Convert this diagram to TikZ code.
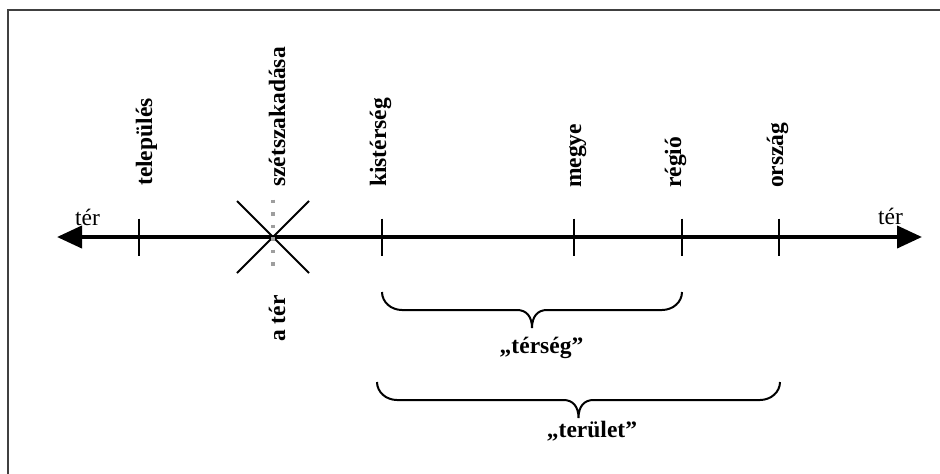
\documentclass[tikz,border=0pt]{standalone}
\usepackage{fontspec}
\setmainfont{Liberation Serif}
\usetikzlibrary{arrows.meta}
\begin{document}
\begin{tikzpicture}[x=1pt,y=-1pt,
  lbl/.style={rotate=90,anchor=base west,inner sep=0pt,font=\fontsize{23.5}{27}\selectfont\bfseries},
  bracelbl/.style={anchor=base,inner sep=0pt,font=\fontsize{23.5}{27}\selectfont\bfseries},
  terlbl/.style={anchor=base west,inner sep=0pt,font=\fontsize{23.5}{27}\selectfont},
  tickline/.style={line width=2pt},
  axisline/.style={line width=4pt,{Triangle[length=25pt,width=22pt]}-{Triangle[length=25pt,width=22pt]}},
  bracepath/.style={line width=2pt},
  crossline/.style={line width=2pt},
  gapline/.style={line width=3.5pt,draw=black!38,dash pattern=on 3.5pt off 9pt}]
\useasboundingbox (0,0) rectangle (940,474);
% frame
\draw[line width=1.5pt,black!75] (8,480) -- (8,10) -- (946,10);
% axis
\coordinate (L) at (57,237);
\coordinate (R) at (922,237);
\draw[axisline] (L) -- (R);
\node[terlbl] (terL) at (75,225) {tér};
\node[terlbl] (terR) at (878,224) {tér};
% ticks
\coordinate (tTel) at (139,237);
\coordinate (tKis) at (382,237);
\coordinate (tMeg) at (574,237);
\coordinate (tReg) at (682,237);
\coordinate (tOrs) at (779,237);
\foreach \c in {tTel,tKis,tMeg,tReg,tOrs}
  \draw[tickline] (\c) ++(0,-18.5) -- ++(0,37);
% labels
\node[lbl] (nTel) at (152,186) {település};
\node[lbl] (nSze) at (285,187) {szétszakadása};
\node[lbl] (nKis) at (386,187) {kistérség};
\node[lbl] (nMeg) at (581,188) {megye};
\node[lbl] (nReg) at (681,188) {régió};
\node[lbl] (nOrs) at (783,188) {ország};
\node[lbl] (nAter) at (285,342) {a tér};
% cross
\coordinate (X) at (273,237);
\draw[crossline] (X) ++(-36,-36) -- ++(72,72);
\draw[crossline] (X) ++(-36,36) -- ++(72,-72);
\draw[gapline] (X) ++(0,-37.5) -- ++(0,70);
% brace "térség"
\draw[bracepath] (tKis |- 0,292) .. controls (382,302) and (391,310) .. (402,310)
  -- (517,310) .. controls (526,310) and (532,316) .. (532,328)
  .. controls (532,316) and (538,310) .. (547,310)
  -- (662,310) .. controls (673,310) and (682,302) .. (682,292);
\node[bracelbl] (bTer) at (541.5,353) {„térség”};
% brace "terület"
\draw[bracepath] (377,382) .. controls (377,392) and (386,400) .. (397,400)
  -- (563.5,400) .. controls (572.5,400) and (578.5,406) .. (578.5,418)
  .. controls (578.5,406) and (584.5,400) .. (593.5,400)
  -- (760,400) .. controls (771,400) and (780,392) .. (780,382);
\node[bracelbl] (bTeru) at (592,437) {„terület”};
\end{tikzpicture}
\end{document}
